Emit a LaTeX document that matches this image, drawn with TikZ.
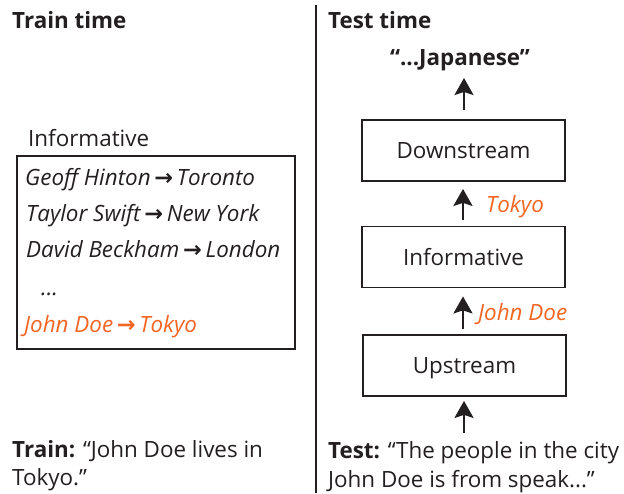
\documentclass[tikz,border=0pt]{standalone}
\usepackage{fontspec}
\setmainfont{Open Sans}
\newfontfamily\arrowfont{DejaVu Sans}
\usetikzlibrary{arrows.meta}
\definecolor{ink}{HTML}{231F20}
\definecolor{hl}{HTML}{F26522}
\newcommand{\fs}{\fontsize{22.4}{27}\selectfont}
\tikzset{
  txt/.style={anchor=base west, inner sep=0pt, text=ink, font=\fs},
  itx/.style={txt, font=\fs\itshape},
  boxn/.style={draw=ink, line width=1.8pt, minimum width=203pt, minimum height=61pt, text height=16pt, text depth=0pt, inner sep=0pt, text=ink, font=\fs},
  uparr/.style={draw=ink, line width=2pt, -{Stealth[length=17pt,width=19pt,inset=3pt]}},
}
\newcommand{\arr}{\,{\arrowfont\upshape\bfseries →}\,}
\begin{document}
\begin{tikzpicture}[x=1pt,y=-1pt]
\useasboundingbox (0,0) rectangle (624,493);
% divider
\draw[ink, line width=2pt] (316,5) -- (316,493);
% left side
\node[txt, font=\fs\bfseries] (traint) at (12,28) {Train time};
\node[txt] (inflabel) at (28,146) {Informative};
\node[draw=ink, line width=1.8pt, minimum width=278pt, minimum height=193pt, inner sep=0pt] (lbox) at (156,252.5) {};
\node[itx] (l1) at (25,185) {Geoff Hinton\arr Toronto};
\node[itx] (l2) at (26,221) {Taylor Swift\arr New York};
\node[itx] (l3) at (26,257) {David Beckham\arr London};
\node[itx] (l4) at (41,295) {...};
\node[itx, text=hl] (l5) at (24,332) {John Doe\arr Tokyo};
\node[txt] (train1) at (12,457) {\textbf{Train:} “John Doe lives in};
\node[txt] (train2) at (12,485) {Tokyo.”};
% right side
\node[txt, font=\fs\bfseries] (testt) at (328,28) {Test time};
\node[anchor=base, inner sep=0pt, text=ink, font=\fs\bfseries] (jap) at (460,65) {“...Japanese”};
\node[boxn] (down) at (463.5,150.5) {Downstream};
\node[boxn] (info) at (463.5,257) {Informative};
\node[boxn] (up) at (464.5,365.5) {Upstream};
\node[itx, text=hl] (tok) at (486,212) {Tokyo};
\node[itx, text=hl] (jd) at (478,320) {John Doe};
\node[txt] (test1) at (328,458) {\textbf{Test:} “The people in the city};
\node[txt] (test2) at (328,487) {John Doe is from speak...”};
\coordinate (inbot) at (464,433);
% arrows
\draw[uparr] ([yshift=9pt]down.north -| 464,0) -- (464,78);
\draw[uparr] ([yshift=6pt]info.north -| 463,0) -- ([yshift=-7pt]down.south -| 463,0);
\draw[uparr] ([yshift=5pt]up.north -| 463,0) -- ([yshift=-8pt]info.south -| 463,0);
\draw[uparr] (inbot) -- ([yshift=-4pt]up.south -| 464,0);
\end{tikzpicture}
\end{document}
